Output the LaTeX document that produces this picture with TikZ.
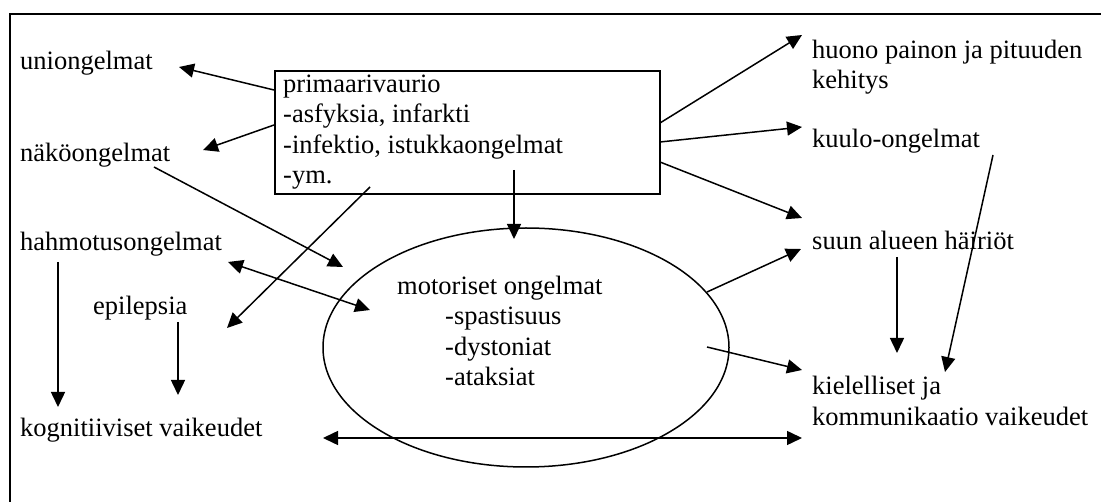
\documentclass[tikz,border=0pt]{standalone}
\usepackage{fontspec}
\setmainfont{Liberation Serif}
\usetikzlibrary{arrows.meta,shapes.geometric}
\begin{document}
\begin{tikzpicture}[x=1pt,y=-1pt,
  lbl/.style={anchor=base west, inner sep=0pt, align=left, font=\fontsize{26.5}{30.5}\selectfont},
  arr/.style={-{Triangle[length=15pt,width=14pt]}, line width=1.5pt},
  darr/.style={{Triangle[length=15pt,width=14pt]}-{Triangle[length=15pt,width=14pt]}, line width=1.5pt}]
\useasboundingbox (0,0) rectangle (1101,502);
\draw[line width=2pt] (1101,14) -- (10,14) -- (10,502);

% text nodes (multi-line nodes are placed by the baseline of their last line)
\node[lbl] (union) at (20,70) {uniongelmat};
\node[lbl] (nako) at (20,162) {näköongelmat};
\node[lbl] (hahmo) at (20,251) {hahmotusongelmat};
\node[lbl] (epi) at (93,315) {epilepsia};
\node[lbl] (kogn) at (20,437) {kognitiiviset vaikeudet};

\node[draw, line width=2pt, minimum width=385pt, minimum height=123pt, anchor=north west, inner sep=0pt] (box) at (274,70) {};
\node[lbl] (boxtext) at (283,184) {primaarivaurio\\-asfyksia, infarkti\\-infektio, istukkaongelmat\\-ym.};

\node[draw, ellipse, line width=1.5pt, minimum width=406pt, minimum height=239pt, inner sep=0pt] (ell) at (526,347.5) {};
\node[lbl] (motor) at (397,295) {motoriset ongelmat};
\node[lbl] (mlist) at (445,386) {-spastisuus\\-dystoniat\\-ataksiat};

\node[lbl] (huono) at (812,89) {huono painon ja pituuden\\kehitys};
\node[lbl] (kuulo) at (812,148) {kuulo-ongelmat};
\node[lbl] (suun) at (812,250) {suun alueen häiriöt};
\node[lbl] (kiel) at (812,425.5) {kielelliset ja\\kommunikaatio vaikeudet};

% connector end points
\coordinate (boxUn) at (274,90);   \coordinate (unTip) at (179,67);
\coordinate (boxNa) at (274,125);  \coordinate (naTip) at (203,150);
\coordinate (naOut) at (154,167);  \coordinate (ellNa) at (343,267);
\coordinate (boxYm) at (370,187);  \coordinate (epiTip) at (227,328);
\coordinate (haR) at (228,262);    \coordinate (ellHa) at (370,310);
\coordinate (haDown) at (58,262);  \coordinate (kogTip) at (58,407);
\coordinate (epDown) at (178,322); \coordinate (epTip) at (178,395);
\coordinate (kogR) at (323,438);   \coordinate (kielL) at (802,438);
\coordinate (boxDn) at (514,170);  \coordinate (ellTop) at (514,239);
\coordinate (boxR1) at (660,123);  \coordinate (huTip) at (802,35);
\coordinate (boxR2) at (660,142);  \coordinate (kuTip) at (802,127);
\coordinate (boxR3) at (660,162);  \coordinate (suTip) at (802,218);
\coordinate (ellR1) at (707,292);  \coordinate (suTip2) at (801,249);
\coordinate (ellR2) at (707,347);  \coordinate (kiTip) at (802,370);
\coordinate (suDown) at (897,257); \coordinate (kiTip2) at (897,353);
\coordinate (kuOut) at (993,155);  \coordinate (kiTip3) at (945,372);

\draw[arr] (boxUn) -- (unTip);
\draw[arr] (boxNa) -- (naTip);
\draw[arr] (naOut) -- (ellNa);
\draw[arr] (boxYm) -- (epiTip);
\draw[darr] (haR) -- (ellHa);
\draw[arr] (haDown) -- (kogTip);
\draw[arr] (epDown) -- (epTip);
\draw[darr] (kogR) -- (kielL);
\draw[arr] (boxDn) -- (ellTop);
\draw[arr] (boxR1) -- (huTip);
\draw[arr] (boxR2) -- (kuTip);
\draw[arr] (boxR3) -- (suTip);
\draw[arr] (ellR1) -- (suTip2);
\draw[arr] (ellR2) -- (kiTip);
\draw[arr] (suDown) -- (kiTip2);
\draw[arr] (kuOut) -- (kiTip3);
\end{tikzpicture}
\end{document}
